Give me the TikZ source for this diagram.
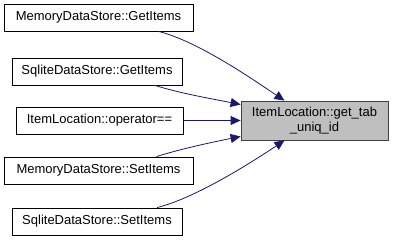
\documentclass[tikz,border=0pt]{standalone}
\usepackage{fontspec}
\setmainfont{Liberation Sans}
\usetikzlibrary{arrows.meta}
\definecolor{edgeblue}{HTML}{191970}
\definecolor{focusgray}{HTML}{BFBFBF}
\begin{document}
\begin{tikzpicture}[x=1pt,y=-1pt,
  callerbox/.style={draw=black,fill=white,line width=0.8pt,minimum height=27pt,
    inner sep=0pt,font=\fontsize{13}{15}\selectfont},
  focusbox/.style={draw=black!75,fill=focusgray,line width=0.8pt,minimum width=147pt,
    minimum height=39pt,inner sep=0pt,align=center,font=\fontsize{13}{15}\selectfont},
  calledge/.style={draw=edgeblue,line width=0.8pt,
    -{Triangle[length=10pt,width=9pt]}}]
\useasboundingbox (0,0) rectangle (393,240);
\node[callerbox,minimum width=189pt] (b1) at (98.5,17.5) {MemoryDataStore::GetItems};
\node[callerbox,minimum width=170pt] (b2) at (97,71.5) {SqliteDataStore::GetItems};
\node[callerbox,minimum width=167pt] (b3) at (99.5,120.5) {ItemLocation::operator==};
\node[callerbox,minimum width=189pt] (b4) at (98.5,170.5) {MemoryDataStore::SetItems};
\node[callerbox,minimum width=170pt] (b5) at (97,221.5) {SqliteDataStore::SetItems};
\node[focusbox] (t) at (314.5,120.5) {ItemLocation::get\_tab\\\_uniq\_id};
\draw[calledge] ([xshift=60pt]b1.south) .. controls +(40,10) and +(-30,-20) .. ([xshift=-30pt]t.north);
\draw[calledge] ([xshift=58pt]b2.south) .. controls +(25,8) and +(-25,-5) .. ([yshift=16pt]t.west);
\draw[calledge] (b3.east) -- (t.west);
\draw[calledge] ([xshift=58pt]b4.north) .. controls +(25,-8) and +(-25,5) .. ([yshift=-16pt]t.west);
\draw[calledge] ([xshift=60pt]b5.north) .. controls +(40,-10) and +(-30,20) .. ([xshift=-30pt]t.south);
\end{tikzpicture}
\end{document}
